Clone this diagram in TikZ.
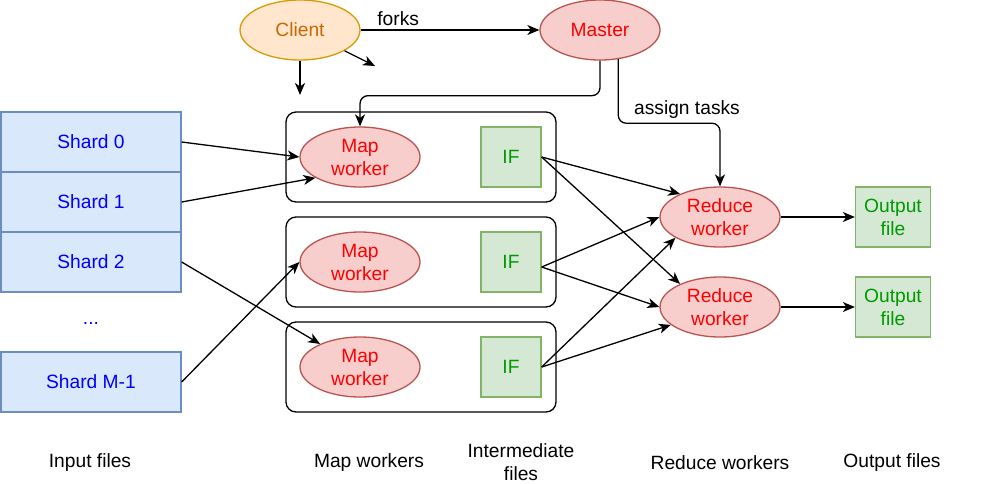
\documentclass[tikz,border=0pt]{standalone}
\usepackage{fontspec}
\setmainfont{Liberation Sans}
\usetikzlibrary{shapes.geometric,arrows.meta}
\definecolor{shardfill}{HTML}{DAE8FC}
\definecolor{sharddraw}{HTML}{6C8EBF}
\definecolor{workfill}{HTML}{F8CECC}
\definecolor{workdraw}{HTML}{B85450}
\definecolor{iffill}{HTML}{D5E8D4}
\definecolor{ifdraw}{HTML}{82B366}
\definecolor{iftext}{HTML}{009900}
\definecolor{clientfill}{HTML}{FFE6CC}
\definecolor{clientdraw}{HTML}{D79B00}
\definecolor{clienttext}{HTML}{CC6600}
\begin{document}
\begin{tikzpicture}[x=1pt,y=-1pt,line width=1.3pt,font=\fontsize{19.2}{23}\selectfont,
  arr/.style={-{Stealth[length=12pt,width=10pt,inset=3.5pt]}},
  shard/.style={draw=sharddraw,fill=shardfill,text=blue,minimum width=180pt,minimum height=60pt,inner sep=0pt},
  worker/.style={ellipse,draw=workdraw,fill=workfill,text=red,minimum width=120pt,minimum height=60pt,inner sep=0pt,align=center},
  ifbox/.style={draw=ifdraw,fill=iffill,text=iftext,minimum height=60pt,inner sep=0pt,align=center},
  stage/.style={draw,rounded corners=10pt,minimum width=270pt,minimum height=90pt}]
\useasboundingbox (0,0) rectangle (984,483);
% input files
\node[shard] (shard0) at (91,142) {Shard 0};
\node[shard] (shard1) at (91,202) {Shard 1};
\node[shard] (shard2) at (91,262) {Shard 2};
\node[text=blue] (dots) at (91,323) {...};
\node[shard] (shardm) at (91,382) {Shard M-1};
% client and master
\node[worker,draw=clientdraw,fill=clientfill,text=clienttext] (client) at (300,30) {Client};
\node[worker] (master) at (600,30) {Master};
% map stages
\node[stage] (stage1) at (421,157) {};
\node[stage] (stage2) at (421,262) {};
\node[stage] (stage3) at (421,367) {};
\node[worker] (map1) at (360,157) {Map\\worker};
\node[worker] (map2) at (360,262) {Map\\worker};
\node[worker] (map3) at (360,367) {Map\\worker};
\node[ifbox,minimum width=60pt] (if1) at (511,157) {IF};
\node[ifbox,minimum width=60pt] (if2) at (511,262) {IF};
\node[ifbox,minimum width=60pt] (if3) at (511,367) {IF};
% reduce and output
\node[worker] (reduce1) at (720,217) {Reduce\\worker};
\node[worker] (reduce2) at (720,307) {Reduce\\worker};
\node[ifbox,minimum width=75pt] (out1) at (893,217) {Output\\file};
\node[ifbox,minimum width=75pt] (out2) at (893,307) {Output\\file};
% column labels
\node (lblinput) at (90,463) {Input files};
\node (lblmap) at (369,463) {Map workers};
\node[align=center] (lblif) at (521,462) {Intermediate\\files};
\node (lblreduce) at (720,463) {Reduce workers};
\node (lbloutput) at (892,463) {Output files};
% connectors
\coordinate (cdown) at (300,95);
\coordinate (cside) at (375,66);
\draw[arr] (client) -- node[above,pos=0.21]{forks} (master);
\draw[arr] (client.south) -- (cdown);
\draw[arr] (client.-25) -- (cside);
\draw[arr,rounded corners=8pt] (master.south) -- ++(0,35) -| (map1.north);
\draw[arr,rounded corners=8pt] (master.-58) -- ++(0,64) -| (reduce1.north);
\node (assign) at (687,110) {assign tasks};
\draw[arr] (shard0.east) -- (map1.west);
\draw[arr] (shard1.east) -- (map1.205);
\draw[arr] (shard2.east) -- (map3.150);
\draw[arr] (shardm.east) -- (map2.west);
\draw[arr] (if1.east) -- (reduce1.150);
\draw[arr] (if1.east) -- (reduce2.150);
\draw[arr] ([yshift=-5pt]if2.east) -- (reduce1.west);
\draw[arr] ([yshift=-5pt]if2.east) -- (reduce2.west);
\draw[arr] (if3.east) -- (reduce1.205);
\draw[arr] (if3.east) -- (reduce2.200);
\draw[arr] (reduce1) -- (out1);
\draw[arr] (reduce2) -- (out2);
\end{tikzpicture}
\end{document}
